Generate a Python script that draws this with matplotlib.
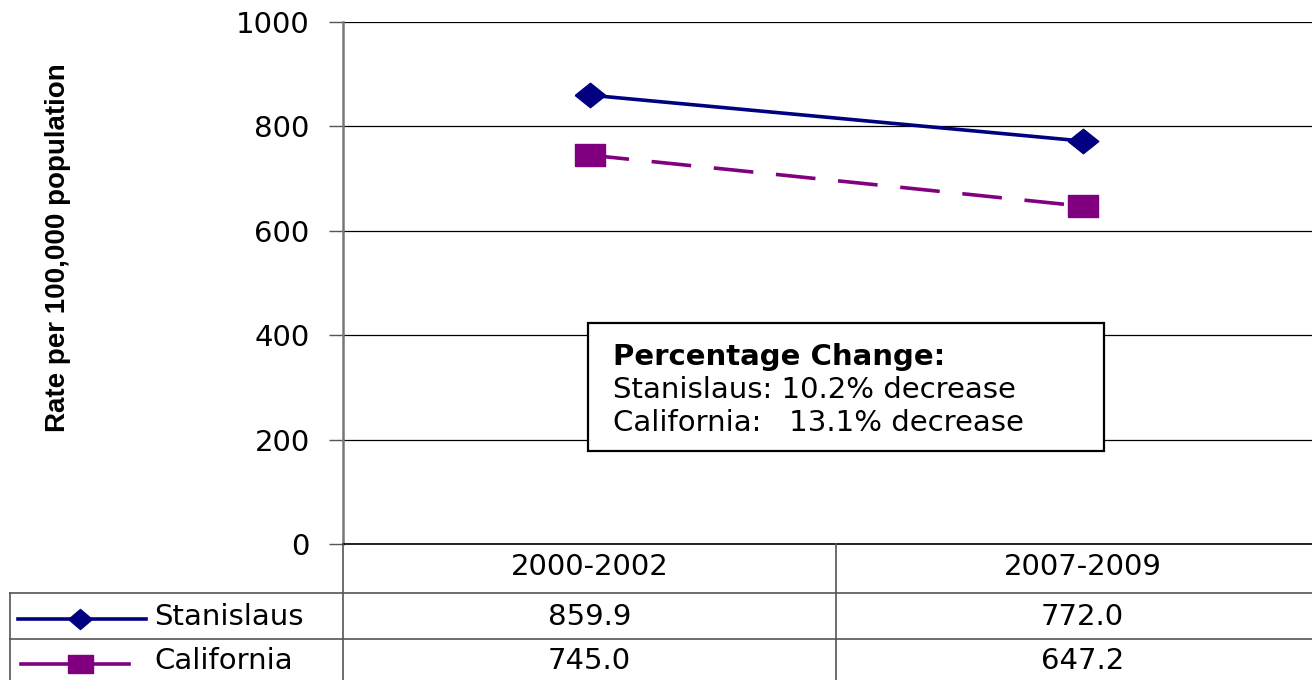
import matplotlib.pyplot as plt
import numpy as np
from matplotlib.lines import Line2D
from matplotlib.patches import Rectangle
from matplotlib.transforms import blended_transform_factory

# Periods and rates per 100,000 population
periods = ["2000-2002", "2007-2009"]
stanislaus = np.array([859.9, 772.0])
california = np.array([745.0, 647.2])
yticks = [0, 200, 400, 600, 800, 1000]

navy = "#000080"
purple = "#800080"
plt.rcParams['font.family'] = ['DejaVu Sans']
FS = 21

W, H = 1312, 680
fig = plt.figure(figsize=(W / 100, H / 100), dpi=100)
ax = fig.add_axes([343 / W, (H - 544) / H, (1329 - 343) / W, (544 - 22) / H])

diamond = [(-1, 0), (0, 0.8), (1, 0), (0, -0.8), (-1, 0)]
square = [(-1, -0.75), (1, -0.75), (1, 0.75), (-1, 0.75), (-1, -0.75)]

x = np.arange(len(periods))
ax.plot(x, stanislaus, color=navy, lw=2.6, marker=diamond, markersize=22, zorder=3)
ax.plot(x, california, color=purple, lw=2.6, dashes=(11, 6.3), marker=square,
        markersize=21, zorder=3)

ax.set_xlim(-0.5, 1.5)
ax.set_ylim(0, 1000)
ax.set_yticks(yticks)
ax.set_yticklabels([str(v) for v in yticks], fontsize=FS)
ax.tick_params(axis='y', direction='out', length=10, width=1, color='#555555', pad=14)
ax.set_xticks([])
ax.grid(axis='y', color='black', lw=0.9)
ax.set_axisbelow(True)
for s in ['top', 'right']:
    ax.spines[s].set_visible(False)
ax.spines['left'].set_color('#777777')
ax.spines['left'].set_linewidth(1.8)
ax.spines['bottom'].set_color('black')
ax.spines['bottom'].set_linewidth(1.2)

fig.text(58 / W, 1 - 248 / H, "Rate per 100,000 population", rotation=90,
         ha='center', va='center', fontsize=20, fontweight='bold',
         family=['Liberation Sans Narrow', 'Liberation Sans', 'DejaVu Sans'])

# Percentage change box
def fx(px):
    return px / W

def fy(py):
    return 1 - py / H

fig.add_artist(Rectangle((fx(588), fy(451)), fx(1104) - fx(588), fy(323) - fy(451),
                         transform=fig.transFigure, fill=True, facecolor='white',
                         edgecolor='black', lw=1.6, zorder=4))
fig.text(fx(613), fy(357), "Percentage Change:", fontsize=FS, fontweight='bold',
         va='center', ha='left', zorder=5)
fig.text(fx(613), fy(390), "Stanislaus: 10.2% decrease", fontsize=FS,
         va='center', ha='left', zorder=5)
fig.text(fx(613), fy(423), "California:   13.1% decrease", fontsize=FS,
         va='center', ha='left', zorder=5)

# Data table below the axis
tr = blended_transform_factory(ax.transData, fig.transFigure)
grey = '#555555'
for xs, ys in [((fx(10), 1.0), (fy(593), fy(593))),
               ((fx(10), 1.0), (fy(639), fy(639))),
               ((fx(10), fx(10)), (fy(593), 0.0)),
               ((fx(343), fx(343)), (fy(544), 0.0))]:
    fig.add_artist(Line2D(xs, ys, transform=fig.transFigure, color=grey, lw=1.2))
fig.add_artist(Line2D([0.5, 0.5], [fy(544), 0.0], transform=tr, color=grey, lw=1.2))

for i, p in enumerate(periods):
    fig.text(x[i], fy(567), p, transform=tr, ha='center', va='center', fontsize=FS)
    fig.text(x[i], fy(617), f"{stanislaus[i]:.1f}", transform=tr, ha='center',
             va='center', fontsize=FS)
    fig.text(x[i], fy(661), f"{california[i]:.1f}", transform=tr, ha='center',
             va='center', fontsize=FS)

# Legend keys in the table
fig.add_artist(Line2D([fx(18), fx(146)], [fy(619), fy(619)], transform=fig.transFigure,
                      color=navy, lw=2.6))
fig.add_artist(Line2D([fx(80)], [fy(619)], transform=fig.transFigure, color=navy,
                      marker=[(-1, 0), (0, 0.85), (1, 0), (0, -0.85), (-1, 0)],
                      markersize=17, lw=0))
fig.add_artist(Line2D([fx(21), fx(129)], [fy(664), fy(664)], transform=fig.transFigure,
                      color=purple, lw=2.6))
fig.add_artist(Line2D([fx(79.5)], [fy(664)], transform=fig.transFigure, color=purple,
                      marker=[(-1, -0.7), (1, -0.7), (1, 0.7), (-1, 0.7), (-1, -0.7)],
                      markersize=18, lw=0))
fig.text(fx(154), fy(617), "Stanislaus", fontsize=FS, va='center', ha='left')
fig.text(fx(154), fy(661), "California", fontsize=FS, va='center', ha='left')

fig.savefig("out.png", dpi=100)
